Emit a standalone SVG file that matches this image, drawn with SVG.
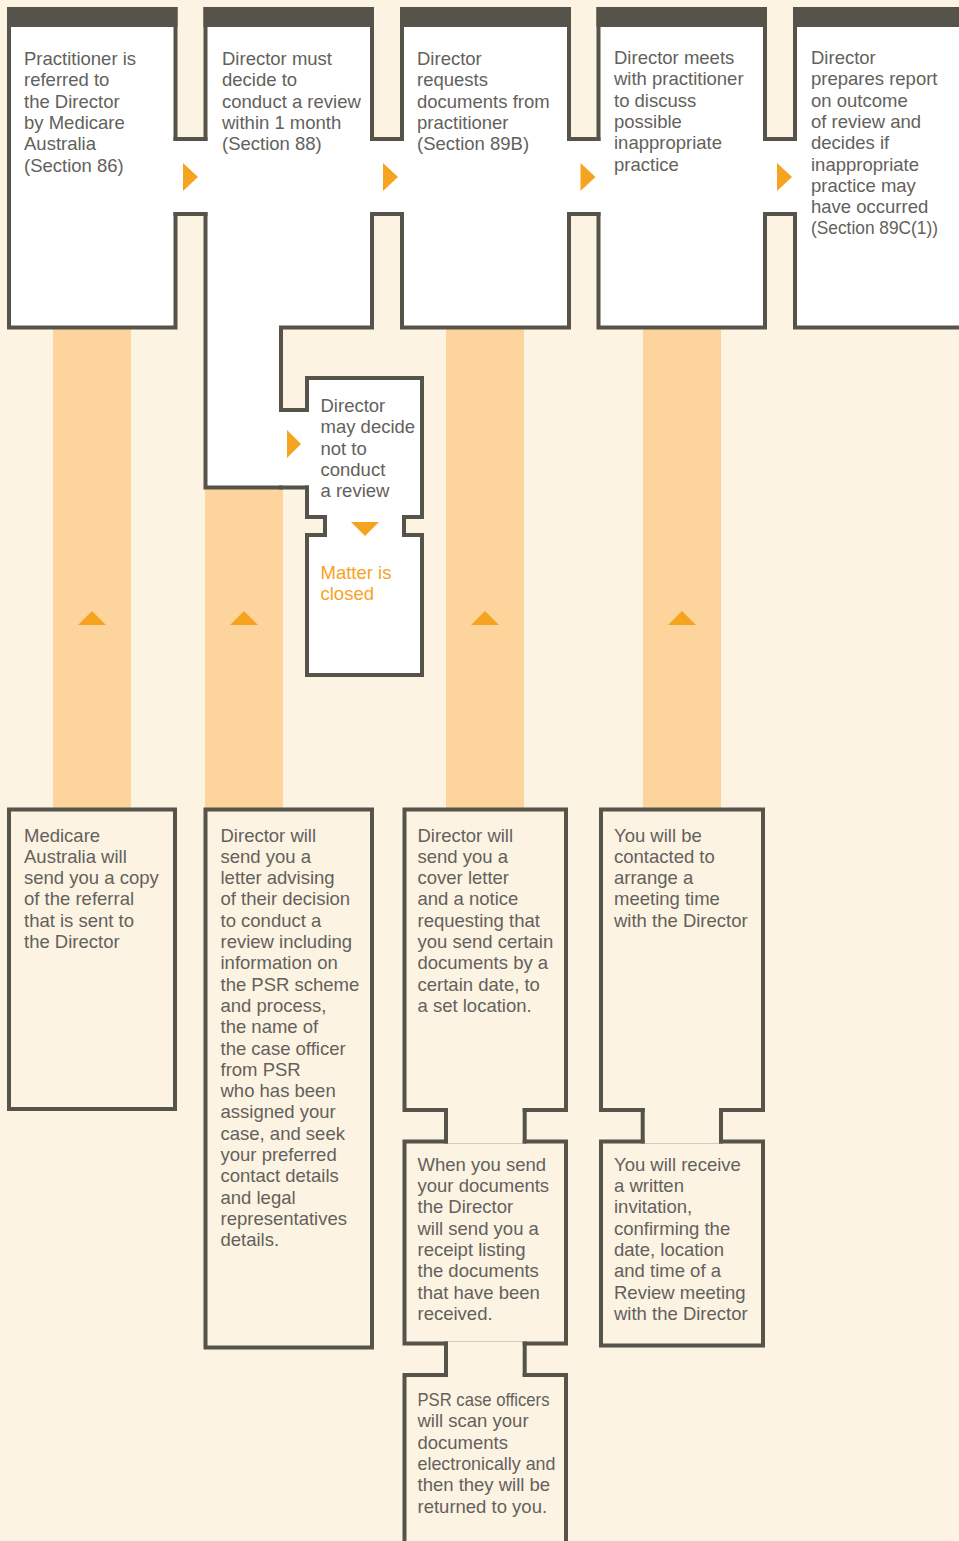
<svg xmlns="http://www.w3.org/2000/svg" width="959" height="1541" viewBox="0 0 959 1541">
<style>
.bg{fill:#FDF3E3}
.col{fill:#FDD59C}
.box{fill:#FFFFFF;stroke:#55534A;stroke-width:4}
.bbox{fill:#FDF3E3;stroke:#55534A;stroke-width:4}
.hdr{fill:#55534A}
.pw{fill:#FFFFFF}
.pc{fill:#FDF3E3}
.ln{fill:none;stroke:#55534A;stroke-width:4;stroke-linecap:square}
.arr{fill:#F6A31F}
text{font-family:"Liberation Sans",Arial,sans-serif;font-size:18.5px;fill:#63615B}
.or{fill:#F6A31F}
</style>
<rect class="bg" x="0" y="0" width="959" height="1541"/>
<g id="columns">
<rect class="col" x="53" y="329" width="78" height="480"/>
<rect class="col" x="205" y="489" width="78" height="320"/>
<rect class="col" x="446" y="329" width="78" height="480"/>
<rect class="col" x="643" y="329" width="78" height="480"/>
</g>
<g id="n1">
<rect class="box" x="9" y="9" width="166.5" height="318.5"/>
<rect class="hdr" x="7" y="7" width="170.5" height="20"/>
<text x="24" y="65">Practitioner is</text>
<text x="24" y="86.3">referred to</text>
<text x="24" y="107.6">the Director</text>
<text x="24" y="128.9">by Medicare</text>
<text x="24" y="150.2">Australia</text>
<text x="24" y="171.5">(Section 86)</text>
</g>
<g id="n2">
<path class="box" d="M205.5 9 H372 V327.5 H281 V487.5 H205.5 Z"/>
<rect class="hdr" x="203.5" y="7" width="170.5" height="20"/>
<text x="222" y="65">Director must</text>
<text x="222" y="86.3">decide to</text>
<text x="222" y="107.6">conduct a review</text>
<text x="222" y="128.9">within 1 month</text>
<text x="222" y="150.2">(Section 88)</text>
</g>
<g id="n3">
<rect class="box" x="402" y="9" width="167" height="318.5"/>
<rect class="hdr" x="400" y="7" width="171" height="20"/>
<text x="417" y="65">Director</text>
<text x="417" y="86.3">requests</text>
<text x="417" y="107.6">documents from</text>
<text x="417" y="128.9">practitioner</text>
<text x="417" y="150.2">(Section 89B)</text>
</g>
<g id="n4">
<rect class="box" x="598.5" y="9" width="166.5" height="318.5"/>
<rect class="hdr" x="596.5" y="7" width="170.5" height="20"/>
<text x="614" y="64">Director meets</text>
<text x="614" y="85.3">with practitioner</text>
<text x="614" y="106.6">to discuss</text>
<text x="614" y="127.9">possible</text>
<text x="614" y="149.2">inappropriate</text>
<text x="614" y="170.5">practice</text>
</g>
<g id="n5">
<rect class="box" x="795" y="9" width="180" height="318.5"/>
<rect class="hdr" x="793" y="7" width="170" height="20"/>
<text x="811" y="64">Director</text>
<text x="811" y="85.3">prepares report</text>
<text x="811" y="106.6">on outcome</text>
<text x="811" y="127.9">of review and</text>
<text x="811" y="149.2">decides if</text>
<text x="811" y="170.5">inappropriate</text>
<text x="811" y="191.8">practice may</text>
<text x="811" y="213.1">have occurred</text>
<text x="811" y="234.4" textLength="127" lengthAdjust="spacingAndGlyphs">(Section 89C(1))</text>
</g>
<g id="n6">
<rect class="box" x="307" y="378" width="115" height="139"/>
<text x="320.5" y="412">Director</text>
<text x="320.5" y="433.3">may decide</text>
<text x="320.5" y="454.6">not to</text>
<text x="320.5" y="475.9">conduct</text>
<text x="320.5" y="497.2">a review</text>
</g>
<g id="n7">
<rect class="box" x="307" y="535" width="115" height="140"/>
<text class="or" x="320.5" y="579">Matter is</text>
<text class="or" x="320.5" y="600.3">closed</text>
</g>
<g id="b1">
<rect class="bbox" x="9" y="809.5" width="166" height="299.5"/>
<text x="24" y="841.5">Medicare</text>
<text x="24" y="862.8">Australia will</text>
<text x="24" y="884.1">send you a copy</text>
<text x="24" y="905.4">of the referral</text>
<text x="24" y="926.7">that is sent to</text>
<text x="24" y="948">the Director</text>
</g>
<g id="b2">
<rect class="bbox" x="205.5" y="809.5" width="166.5" height="538"/>
<text x="220.5" y="841.5">Director will</text>
<text x="220.5" y="862.8">send you a</text>
<text x="220.5" y="884.1">letter advising</text>
<text x="220.5" y="905.4">of their decision</text>
<text x="220.5" y="926.7">to conduct a</text>
<text x="220.5" y="948">review including</text>
<text x="220.5" y="969.3">information on</text>
<text x="220.5" y="990.6">the PSR scheme</text>
<text x="220.5" y="1011.9">and process,</text>
<text x="220.5" y="1033.2">the name of</text>
<text x="220.5" y="1054.5">the case officer</text>
<text x="220.5" y="1075.8">from PSR</text>
<text x="220.5" y="1097.1">who has been</text>
<text x="220.5" y="1118.4">assigned your</text>
<text x="220.5" y="1139.7">case, and seek</text>
<text x="220.5" y="1161">your preferred</text>
<text x="220.5" y="1182.3">contact details</text>
<text x="220.5" y="1203.6">and legal</text>
<text x="220.5" y="1224.9">representatives</text>
<text x="220.5" y="1246.2">details.</text>
</g>
<g id="b3">
<rect class="bbox" x="404.5" y="809.5" width="161.5" height="300.5"/>
<text x="417.5" y="841.5">Director will</text>
<text x="417.5" y="862.8">send you a</text>
<text x="417.5" y="884.1">cover letter</text>
<text x="417.5" y="905.4">and a notice</text>
<text x="417.5" y="926.7">requesting that</text>
<text x="417.5" y="948">you send certain</text>
<text x="417.5" y="969.3">documents by a</text>
<text x="417.5" y="990.6">certain date, to</text>
<text x="417.5" y="1011.9">a set location.</text>
</g>
<g id="b4">
<rect class="bbox" x="601" y="809.5" width="162" height="300.5"/>
<text x="614" y="841.5">You will be</text>
<text x="614" y="862.8">contacted to</text>
<text x="614" y="884.1">arrange a</text>
<text x="614" y="905.4">meeting time</text>
<text x="614" y="926.7">with the Director</text>
</g>
<g id="b3b">
<rect class="bbox" x="404.5" y="1141.5" width="161.5" height="202"/>
<text x="417.5" y="1170.7">When you send</text>
<text x="417.5" y="1192">your documents</text>
<text x="417.5" y="1213.3">the Director</text>
<text x="417.5" y="1234.6">will send you a</text>
<text x="417.5" y="1255.9">receipt listing</text>
<text x="417.5" y="1277.2">the documents</text>
<text x="417.5" y="1298.5">that have been</text>
<text x="417.5" y="1319.8">received.</text>
</g>
<g id="b4b">
<rect class="bbox" x="601" y="1141.5" width="162" height="204"/>
<text x="614" y="1170.7">You will receive</text>
<text x="614" y="1192">a written</text>
<text x="614" y="1213.3">invitation,</text>
<text x="614" y="1234.6">confirming the</text>
<text x="614" y="1255.9">date, location</text>
<text x="614" y="1277.2">and time of a</text>
<text x="614" y="1298.5">Review meeting</text>
<text x="614" y="1319.8">with the Director</text>
</g>
<g id="b3c">
<rect class="bbox" x="404.5" y="1375" width="161.5" height="200"/>
<text x="417.5" y="1406" textLength="132" lengthAdjust="spacingAndGlyphs">PSR case officers</text>
<text x="417.5" y="1427.3">will scan your</text>
<text x="417.5" y="1448.6">documents</text>
<text x="417.5" y="1469.9" textLength="138" lengthAdjust="spacingAndGlyphs">electronically and</text>
<text x="417.5" y="1491.2">then they will be</text>
<text x="417.5" y="1512.5">returned to you.</text>
</g>
<g id="connectors">
<rect class="pw" x="173" y="141" width="35" height="71"/>
<path class="ln" d="M175.5 139 H205.5 M175.5 214 H205.5"/>
<rect class="pw" x="369.5" y="141" width="35" height="71"/>
<path class="ln" d="M372 139 H402 M372 214 H402"/>
<rect class="pw" x="566.5" y="141" width="34.5" height="71"/>
<path class="ln" d="M569 139 H598.5 M569 214 H598.5"/>
<rect class="pw" x="762.5" y="141" width="35" height="71"/>
<path class="ln" d="M765 139 H795 M765 214 H795"/>
<rect class="pw" x="279" y="412" width="30" height="73.5"/>
<path class="ln" d="M281 410 H307 M281 487.5 H307"/>
<rect class="pw" x="327" y="515" width="75" height="22"/>
<path class="ln" d="M325 517 V535 M404 517 V535"/>
<rect class="pc" x="448" y="1108" width="74.7" height="35.5"/>
<path class="ln" d="M446 1110 V1141.5 M524.7 1110 V1141.5"/>
<rect class="pc" x="448" y="1341.5" width="74.7" height="35.5"/>
<path class="ln" d="M446 1343.5 V1375 M524.7 1343.5 V1375"/>
<rect class="pc" x="644.7" y="1108" width="74.3" height="35.5"/>
<path class="ln" d="M642.7 1110 V1141.5 M721 1110 V1141.5"/>
<polygon class="arr" points="183,163 198,177 183,191"/>
<polygon class="arr" points="383,163 398,177 383,191"/>
<polygon class="arr" points="580.5,163 595.5,177 580.5,191"/>
<polygon class="arr" points="777,163 792,177 777,191"/>
<polygon class="arr" points="287,430 301,444 287,458"/>
<polygon class="arr" points="351,522 379,522 365,536"/>
<polygon class="arr" points="78,625 92,611 106,625"/>
<polygon class="arr" points="230,625 244,611 258,625"/>
<polygon class="arr" points="471,625 485,611 499,625"/>
<polygon class="arr" points="668,625 682,611 696,625"/>
</g>
</svg>
